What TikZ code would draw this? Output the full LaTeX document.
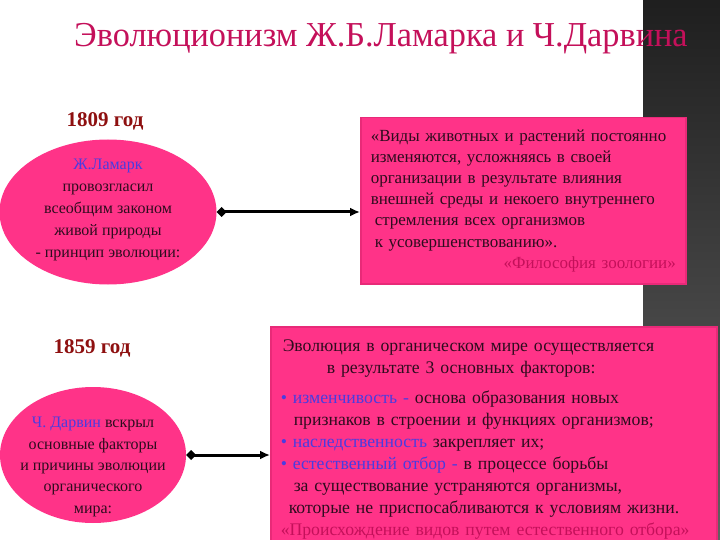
\documentclass[tikz,border=0pt]{standalone}
\usepackage{fontspec}
\setmainfont{Liberation Serif}
\usetikzlibrary{shapes.geometric,arrows.meta}
\definecolor{slidepink}{HTML}{FF3388}
\definecolor{pinkedge}{HTML}{E82A78}
\definecolor{titlered}{HTML}{C4105A}
\definecolor{yearred}{HTML}{8E1010}
\definecolor{namesblue}{HTML}{4A3CE0}
\definecolor{bodydark}{HTML}{2E0C1E}
\newcommand{\namepart}[1]{\textcolor{namesblue}{#1}}
\newcommand{\bulletmark}{\textcolor{namesblue}{\textbullet}}
\tikzstyle{pinkellipse}=[ellipse, fill=slidepink, draw=none, inner sep=0]
\tikzstyle{pinkbox}=[rectangle, fill=slidepink, draw=pinkedge, line width=1.5pt, anchor=north west,
                     align=left, inner xsep=10pt, text=bodydark, font=\fontsize{17}{21.2}\selectfont]
\tikzstyle{yearlabel}=[font=\fontsize{21}{24}\selectfont\bfseries, text=yearred]
\tikzstyle{bodytext}=[font=\fontsize{16}{22}\selectfont, text=bodydark, align=center, inner sep=0]
\tikzstyle{linkarrow}=[line width=3pt, {Diamond[length=10pt,width=10pt]}-{Latex[length=10pt,width=9pt]}]

\begin{document}
\begin{tikzpicture}[x=1pt, y=-1pt]
    \useasboundingbox (0, 0) rectangle (720, 540);
    % dark slide edge
    \shade[top color=black!88, middle color=black!50, bottom color=black!62] (643, 0) rectangle (720, 540);

    \node[font=\fontsize{35}{40}\selectfont, text=titlered, anchor=base, xscale=0.98] (title) at (381, 47) {Эволюционизм Ж.Б.Ламарка и Ч.Дарвина};

    \node[yearlabel] (year1809) at (105, 121) {1809 год};
    \node[pinkellipse, minimum width=217, minimum height=145] (lamarck) at (108, 212) {};
    \node[bodytext] (lamarcktext) at (108, 210) {\namepart{Ж.Ламарк}\\ провозгласил\\ всеобщим законом\\ живой природы\\ - принцип эволюции:};

    \node[pinkbox, minimum width=325, minimum height=166, text width=305] (lamarckquote) at (360, 117) {%
        «Виды животных и растений постоянно\\
        изменяются, усложняясь в своей\\
        организации в результате влияния\\
        внешней среды и некоего внутреннего\\
        \hspace{4pt}стремления всех организмов\\
        \hspace{4pt}к усовершенствованию».\\
        \mbox{}\hfill\textcolor{titlered}{«Философия зоологии»}};

    \node[yearlabel] (year1859) at (92, 348) {1859 год};
    \node[pinkellipse, minimum width=186, minimum height=136] (darwin) at (93, 455) {};
    \node[bodytext, font=\fontsize{16}{21.3}\selectfont] (darwintext) at (93, 467) {\namepart{Ч. Дарвин} вскрыл\\ основные факторы\\ и причины эволюции\\ органического\\ мира:};

    \node[pinkbox, minimum width=446, text width=426, inner ysep=13pt, font=\fontsize{17.7}{22}\selectfont] (darwinfactors) at (270, 326) {%
        \hspace{2pt}Эволюция в органическом мире осуществляется\\
        \hspace{46pt}в результате 3 основных факторов:\\[8pt]
        \bulletmark\ \namepart{изменчивость -} основа образования новых\\
        \hspace{13pt}признаков в строении и функциях организмов;\\
        \bulletmark\ \namepart{наследственность} закрепляет их;\\
        \bulletmark\ \namepart{естественный отбор -} в процессе борьбы\\
        \hspace{13pt}за существование устраняются организмы,\\
        \hspace{8pt}которые не приспосабливаются к условиям жизни.\\
        \textcolor{titlered}{«Происхождение видов путем естественного отбора»}};

    \draw[linkarrow] (lamarck.east) -- (lamarckquote.west |- lamarck.east);
    \draw[linkarrow] (darwin.east) -- (darwinfactors.west |- darwin.east);
\end{tikzpicture}
\end{document}
